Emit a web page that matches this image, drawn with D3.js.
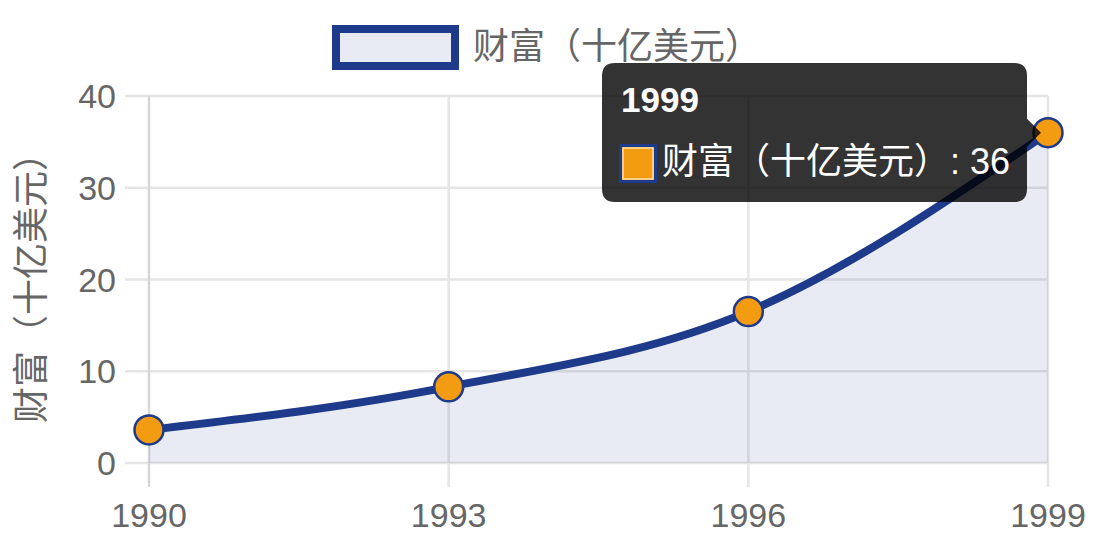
<!DOCTYPE html>
<html>
<head>
<meta charset="utf-8">
<script src="https://cdn.jsdelivr.net/npm/d3@7"></script>
<style>
html,body{margin:0;padding:0;background:#fff;}
svg{display:block;}
text{font-family:"Liberation Sans",Arial,"Noto Sans CJK SC",sans-serif;}
</style>
</head>
<body>
<svg id="chart" width="1098" height="549"></svg>
<script>
const years = ["1990", "1993", "1996", "1999"];
const wealth = [3.6, 8.3, 16.5, 36];
const yTicks = [0, 10, 20, 30, 40];
const seriesLabel = "财富（十亿美元）";
const axisTitle = "财富（十亿美元）";
const tooltipIndex = 3;

(function () {
const plotL = 149, plotR = 1048, plotT = 96, plotB = 463;
const navy = "#1e3a8a", orange = "#f39c12", gridCol = "#e5e5e5", textCol = "#666";

const svg = d3.select("#chart");
const x = d3.scalePoint().domain(years).range([plotL, plotR]);
const y = d3.scaleLinear().domain([0, 40]).range([plotB, plotT]);

// horizontal grid
svg.append("g").selectAll("line").data(yTicks).join("line")
  .attr("x1", plotL - 24).attr("x2", plotR)
  .attr("y1", d => y(d)).attr("y2", d => y(d))
  .attr("stroke", gridCol).attr("stroke-width", 2.5);
// vertical grid
svg.append("g").selectAll("line").data(years).join("line")
  .attr("x1", d => x(d)).attr("x2", d => x(d))
  .attr("y1", plotT).attr("y2", plotB + 24)
  .attr("stroke", (d, i) => i === 0 ? "#d6d6d6" : gridCol).attr("stroke-width", 2.5);

// y tick labels
svg.append("g").selectAll("text").data(yTicks).join("text")
  .attr("x", 116).attr("y", d => y(d)).attr("dy", "0.36em")
  .attr("text-anchor", "end").attr("fill", textCol).attr("font-size", 34)
  .text(d => d);
// x tick labels
svg.append("g").selectAll("text").data(years).join("text")
  .attr("x", d => x(d)).attr("y", 527)
  .attr("text-anchor", "middle").attr("fill", textCol).attr("font-size", 34)
  .text(d => d);

// y axis title
svg.append("text")
  .attr("transform", "translate(44,423) rotate(-90)")
  .attr("text-anchor", "start").attr("fill", textCol).attr("font-size", 36)
  .text(axisTitle);

// area + line
const pts = years.map((yr, i) => [x(yr), y(wealth[i])]);
const area = d3.area().x(d => d[0]).y0(y(0)).y1(d => d[1]).curve(d3.curveMonotoneX);
const line = d3.line().x(d => d[0]).y(d => d[1]).curve(d3.curveMonotoneX);
svg.append("path").attr("d", area(pts)).attr("fill", navy).attr("fill-opacity", 0.1);
svg.append("path").attr("d", line(pts)).attr("fill", "none").attr("stroke", navy)
  .attr("stroke-width", 8).attr("stroke-linejoin", "round");

// points
svg.append("g").selectAll("circle").data(pts).join("circle")
  .attr("cx", d => d[0]).attr("cy", d => d[1]).attr("r", 14.5)
  .attr("fill", orange).attr("stroke", navy).attr("stroke-width", 2.5);

// legend
const lg = svg.append("g");
lg.append("rect").attr("x", 336).attr("y", 29).attr("width", 119).attr("height", 37)
  .attr("fill", "#e8ebf3").attr("stroke", navy).attr("stroke-width", 8);
lg.append("text").attr("x", 473).attr("y", 59)
  .attr("fill", textCol).attr("font-size", 36).text(seriesLabel);

// tooltip
const tp = pts[tooltipIndex];
const bx = 602, by = 63, bw = 425, bh = 139, r = 13, caret = 14;
const cy = tp[1];
const tpath = `M${bx + r},${by} H${bx + bw - r} Q${bx + bw},${by} ${bx + bw},${by + r}
 V${cy - caret} L${bx + bw + caret},${cy} L${bx + bw},${cy + caret}
 V${by + bh - r} Q${bx + bw},${by + bh} ${bx + bw - r},${by + bh}
 H${bx + r} Q${bx},${by + bh} ${bx},${by + bh - r} V${by + r} Q${bx},${by} ${bx + r},${by} Z`;
const tg = svg.append("g");
tg.append("path").attr("d", tpath).attr("fill", "rgba(0,0,0,0.8)");
tg.append("text").attr("x", 621).attr("y", 112).attr("fill", "#fff")
  .attr("font-size", 35).attr("font-weight", "bold").text(years[tooltipIndex]);
tg.append("rect").attr("x", 620.5).attr("y", 145.5).attr("width", 35).attr("height", 36)
  .attr("fill", orange).attr("stroke", navy).attr("stroke-width", 3);
tg.append("rect").attr("x", 623).attr("y", 148).attr("width", 30).attr("height", 31)
  .attr("fill", "none").attr("stroke", "#fff").attr("stroke-width", 1);
tg.append("text").attr("x", 662).attr("y", 174).attr("fill", "#fff")
  .attr("font-size", 36).text(`${seriesLabel}: ${wealth[tooltipIndex]}`);
})();
</script>
</body>
</html>
